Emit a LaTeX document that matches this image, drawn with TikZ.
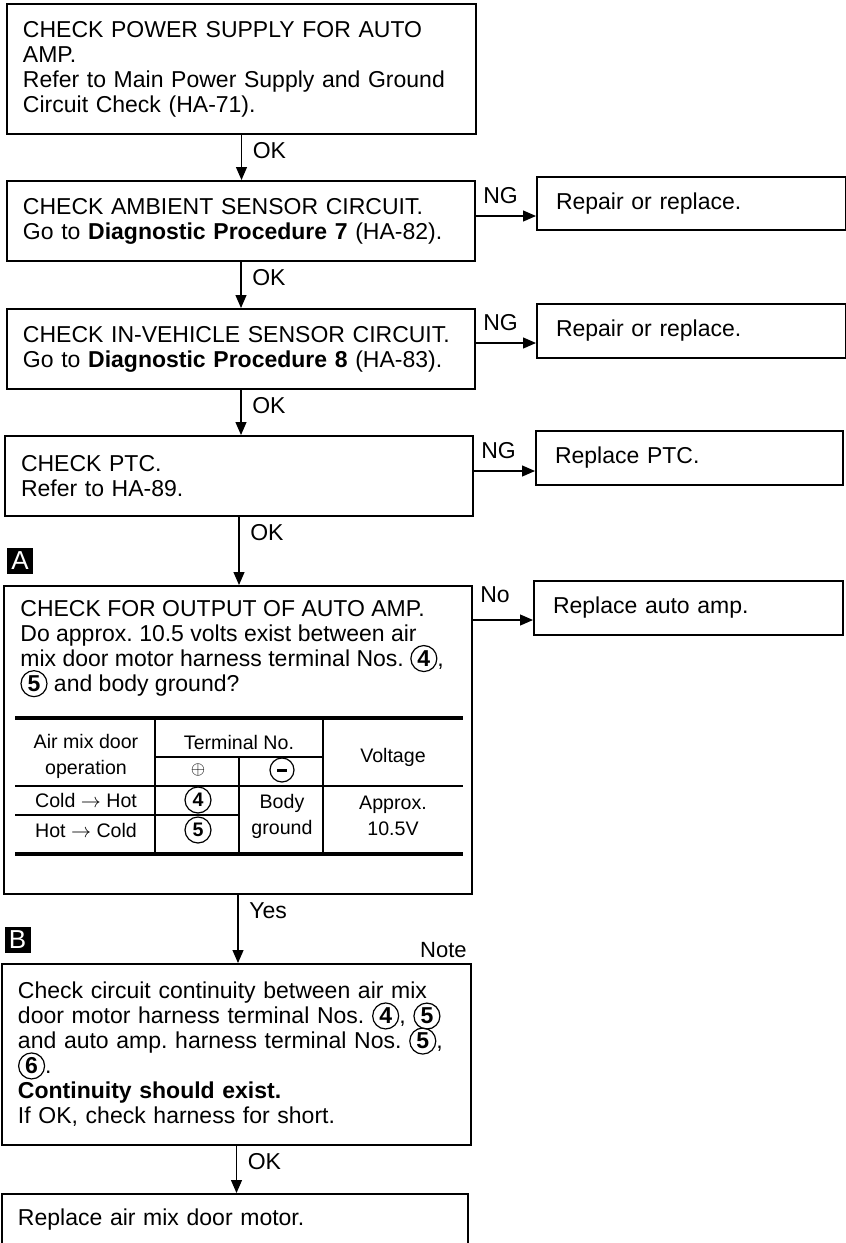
\documentclass[tikz,border=0pt]{standalone}
\usepackage{fontspec}
\setmainfont{Liberation Sans}
\usetikzlibrary{arrows.meta}
\frenchspacing
\tikzset{
  box/.style={draw,line width=1pt,anchor=north west,align=left,inner xsep=8pt,inner ysep=3pt},
  rbox/.style={box,inner xsep=9.5pt},
  flow/.style={-{Triangle[length=6.5pt,width=5.5pt]},line width=0.6pt},
  oklbl/.style={anchor=north west,pos=0,xshift=2pt},
  nglbl/.style={anchor=south west,pos=0,yshift=2.5pt},
  tag/.style={fill=black,text=white,minimum size=13pt,inner sep=0pt,font=\fontsize{13}{13}\selectfont},
  thickrule/.style={line width=2pt},
  thinrule/.style={line width=0.8pt},
  cell/.style={align=center,inner sep=0pt,font=\fontsize{9.8}{13}\selectfont},
  termcirc/.style={draw,circle,line width=0.6pt,minimum size=13pt,inner sep=0pt,
    anchor=center,text width={},align=none}
}
\newcommand{\termno}[1]{\tikz[baseline=(t.base)]\node[termcirc,font=\bfseries] (t) {#1};}

\begin{document}
\begin{tikzpicture}[x=0.5pt,y=-0.5pt,font={\fontsize{11.5}{12.5}\selectfont\lineskiplimit=-10pt}]
  \useasboundingbox (0,0) rectangle (846,1243);
  \node[box,text width=218.5pt,minimum height=65pt] (b1) at (6,3)
    {CHECK POWER SUPPLY FOR AUTO\\AMP.\\Refer to Main Power Supply and Ground\\Circuit Check (HA-71).};
  \node[box,text width=218pt,minimum height=40pt] (b2) at (6,180)
    {CHECK AMBIENT SENSOR CIRCUIT.\\Go to \textbf{Diagnostic Procedure 7} (HA-82).};
  \node[box,text width=218pt,minimum height=40pt] (b3) at (6,308)
    {CHECK IN-VEHICLE SENSOR CIRCUIT.\\Go to \textbf{Diagnostic Procedure 8} (HA-83).};
  \node[box,text width=218pt,minimum height=40pt] (b4) at (4,435)
    {CHECK PTC.\\Refer to HA-89.};
  \node[box,minimum width=234pt,minimum height=154pt] (b5) at (3,585) {};
  \node[anchor=north west,align=left,inner sep=0pt] (q5) at (20,600)
    {CHECK FOR OUTPUT OF AUTO AMP.\\Do approx. 10.5 volts exist between air\\mix door motor harness terminal Nos. \termno{4},\\\termno{5} and body ground?};
  \node[box,text width=218.5pt,minimum height=90.5pt] (b6) at (1,963)
    {Check circuit continuity between air mix\\door motor harness terminal Nos. \termno{4}, \termno{5}\\and auto amp. harness terminal Nos. \termno{5},\\\termno{6}.\\\textbf{Continuity should exist.}\\If OK, check harness for short.};
  \node[box,text width=217pt,inner ysep=7.5pt,text depth=30pt] (b7) at (1,1193)
    {Replace air mix door motor.};

  \node[rbox,text width=135.5pt,minimum height=26.5pt] (r2) at (536,176) {Repair or replace.};
  \node[rbox,text width=135.5pt,minimum height=27pt] (r3) at (536,303) {Repair or replace.};
  \node[rbox,text width=134.5pt,minimum height=27pt] (r4) at (535,430) {Replace PTC.};
  \node[rbox,text width=135.5pt,minimum height=27pt] (r5) at (533,580) {Replace auto amp.};

  \node[tag] (tagA) at (20,561) {A};
  \node[tag] (tagB) at (17.5,940) {B};
  \node[anchor=base east,inner sep=0pt,font=\fontsize{11}{12}\selectfont] (note) at (467,957) {Note};

  \draw[flow] (b1.south) -- node[oklbl] (ok1) {OK} (b1.south |- b2.north);
  \draw[flow] (b2.south) -- node[oklbl] (ok2) {OK} (b2.south |- b3.north);
  \draw[flow] (b3.south) -- node[oklbl] (ok3) {OK} (b3.south |- b4.north);
  \draw[flow] (b4.south) -- node[oklbl] (ok4) {OK} (b4.south |- b5.north);
  \draw[flow] (b5.south) -- node[oklbl] (yes5) {Yes} (b5.south |- b6.north);
  \draw[flow] (b6.south) -- node[oklbl] (ok6) {OK} (b6.south |- b7.north);

  \coordinate (n2) at ([yshift=2.5pt]b2.east);
  \coordinate (n3) at ([yshift=3pt]b3.east);
  \coordinate (n4) at ([yshift=2.5pt]b4.east);
  \coordinate (n5) at ([yshift=-17.5pt]b5.north east);
  \draw[flow] (n2) -- node[nglbl] (ng2) {NG} (n2 -| r2.west);
  \draw[flow] (n3) -- node[nglbl] (ng3) {NG} (n3 -| r3.west);
  \draw[flow] (n4) -- node[nglbl] (ng4) {NG} (n4 -| r4.west);
  \draw[flow] (n5) -- node[nglbl,yshift=2.5pt] (no5) {No} (n5 -| r5.west);

  \draw[thickrule] (15,718) -- (463,718);
  \draw[thickrule] (15,854) -- (463,854);
  \draw[thinrule] (15,786) -- (463,786);
  \draw[thinrule] (155,757) -- (323,757);
  \draw[thinrule] (15,815) -- (239,815);
  \draw[thinrule] (155,718) -- (155,854);
  \draw[thinrule] (239,757) -- (239,854);
  \draw[thinrule] (323,718) -- (323,854);
  \node[cell] (opr) at (86,756) {Air mix door\\operation};
  \node[cell] (tno) at (239,742) {Terminal No.};
  \node[cell] (volt) at (393,757) {Voltage};
  \node[cell,font=\fontsize{9}{9}\selectfont] (plus) at (198,770) {$\oplus$};
  \node[termcirc,minimum size=12pt] (minus) at (282,770) {\rule{5pt}{1.5pt}};
  \node[cell] (ch) at (86,800) {Cold $\rightarrow$ Hot};
  \node[cell] (hc) at (86,830) {Hot $\rightarrow$ Cold};
  \node[cell] (t4) at (198,800) {\termno{4}};
  \node[cell] (t5) at (198,830) {\termno{5}};
  \node[cell] (gnd) at (282,816) {Body\\ground};
  \node[cell] (appr) at (393,816) {Approx.\\10.5V};
\end{tikzpicture}
\end{document}
